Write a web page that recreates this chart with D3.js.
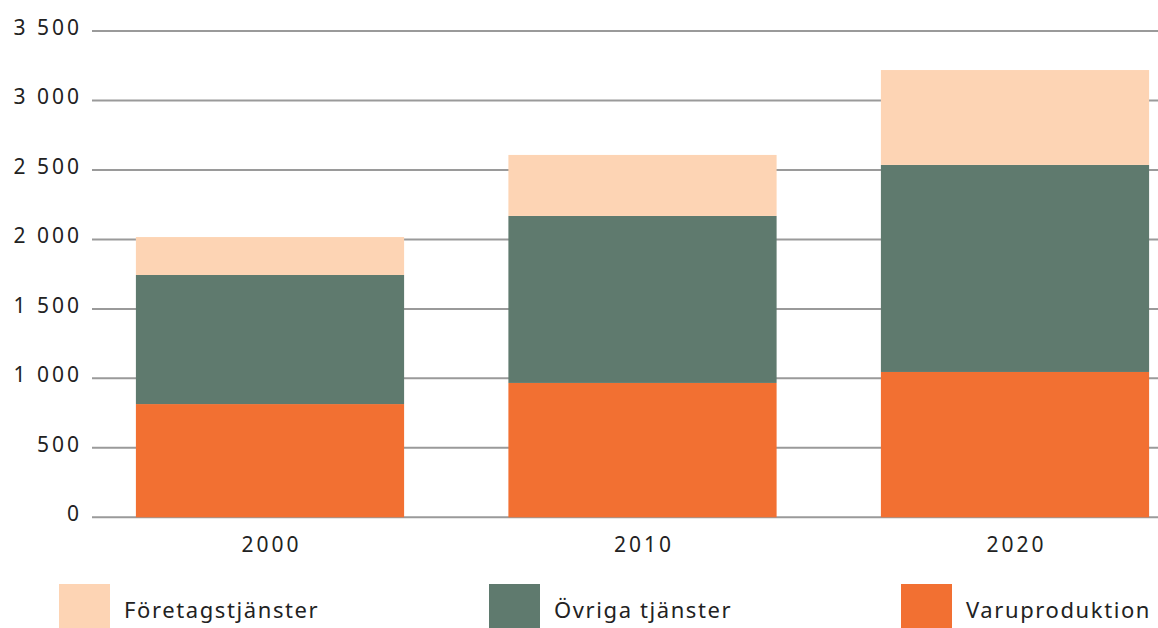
<!DOCTYPE html>
<html>
<head>
<meta charset="utf-8">
<script src="https://cdn.jsdelivr.net/npm/d3@7"></script>
<style>
  body { margin: 0; background: #fff; }
  text { font-family: "Noto Sans", "Open Sans", sans-serif; fill: #222; }
</style>
</head>
<body>
<div id="chart"></div>
<script>
// data
let years = ["2000", "2010", "2020"];
let varuproduktion = [815, 967, 1046];
let ovrigaTjanster = [929, 1202, 1490];
let foretagstjanster = [273, 439, 683];
let seriesNames = ["Varuproduktion", "Övriga tjänster", "Företagstjänster"];
let seriesColors = ["#f27032", "#5f7a6e", "#fdd4b4"];
let yTicks = [0, 500, 1000, 1500, 2000, 2500, 3000, 3500];
let yTickLabels = ["0", "500", "1\u00a0000", "1\u00a0500", "2\u00a0000", "2\u00a0500", "3\u00a0000", "3\u00a0500"];
let legendOrder = ["Företagstjänster", "Övriga tjänster", "Varuproduktion"];

let width = 1158, height = 628;
let digitSpacing = 3;

let svg = d3.select("#chart")
    .append("svg")
    .attr("width", width)
    .attr("height", height);

let table = years.map(function(yr, i) {
    return {
        year: yr,
        "Varuproduktion": varuproduktion[i],
        "Övriga tjänster": ovrigaTjanster[i],
        "Företagstjänster": foretagstjanster[i]
    };
});

let stacked = d3.stack().keys(seriesNames)(table);

let y = d3.scaleLinear()
    .domain([0, 3500])
    .range([517.3, 31]);

let x = d3.scaleBand()
    .domain(years)
    .range([83.75, 1201.25])
    .paddingInner(0.28)
    .paddingOuter(0.14);

let color = d3.scaleOrdinal()
    .domain(seriesNames)
    .range(seriesColors);

// gridlines
svg.append("g")
    .selectAll("line")
    .data(yTicks)
    .enter()
    .append("line")
    .attr("x1", 92)
    .attr("x2", width)
    .attr("y1", function(d) { return y(d); })
    .attr("y2", function(d) { return y(d); })
    .attr("stroke", "#9a9a9a")
    .attr("stroke-width", 2);

// y labels (trailing letter-spacing compensated)
svg.append("g")
    .selectAll("text")
    .data(yTicks)
    .enter()
    .append("text")
    .attr("x", 79 + digitSpacing)
    .attr("y", function(d) { return y(d) + 4; })
    .style("text-anchor", "end")
    .style("font-size", "21px")
    .style("letter-spacing", digitSpacing + "px")
    .text(function(d, i) { return yTickLabels[i]; });

// bars
svg.append("g")
    .selectAll("g")
    .data(stacked)
    .enter()
    .append("g")
    .attr("fill", function(d) { return color(d.key); })
    .selectAll("rect")
    .data(function(d) { return d; })
    .enter()
    .append("rect")
    .attr("x", function(d) { return x(d.data.year); })
    .attr("y", function(d) { return y(d[1]); })
    .attr("width", x.bandwidth())
    .attr("height", function(d) { return y(d[0]) - y(d[1]); });

// x labels
svg.append("g")
    .selectAll("text")
    .data(years)
    .enter()
    .append("text")
    .attr("x", function(d) { return x(d) + x.bandwidth() / 2 + digitSpacing / 2; })
    .attr("y", 552)
    .style("text-anchor", "middle")
    .style("font-size", "21px")
    .style("letter-spacing", digitSpacing + "px")
    .text(function(d) { return d; });

// legend
let legendX = [59, 489, 901];
let legend = svg.append("g")
    .selectAll("g")
    .data(legendOrder)
    .enter()
    .append("g")
    .attr("transform", function(d, i) { return `translate(${legendX[i]}, 584)`; });

legend.append("rect")
    .attr("width", 51)
    .attr("height", 44)
    .attr("fill", function(d) { return color(d); });

legend.append("text")
    .attr("x", 65)
    .attr("y", 34)
    .style("font-size", "22px")
    .style("letter-spacing", "1.6px")
    .text(function(d) { return d; });
</script>
</body>
</html>
